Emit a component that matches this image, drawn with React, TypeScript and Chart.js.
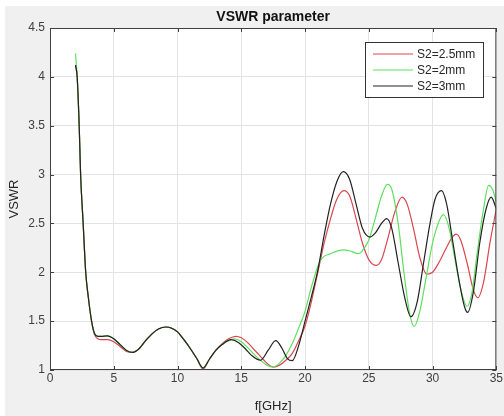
import React, { useEffect, useRef } from "react";
import { Chart, registerables } from "chart.js";

Chart.register(...registerables);

const TITLE = "VSWR parameter";
const X_LABEL = "f[GHz]";
const Y_LABEL = "VSWR";
const SERIES_LABELS = ["S2=2.5mm", "S2=2mm", "S2=3mm"];
const SERIES_COLORS = ["#d9464f", "#5ee05e", "#222222"];

const fRed = [2.0,2.13,2.29,2.4,2.6,2.8,3.0,3.26,3.5,3.75,4.0,4.5,5.0,5.5,6.0,6.5,7.0,7.5,8.0,8.5,9.1,9.5,10,10.5,11,11.5,12.0,12.5,13,13.5,14,14.6,15,15.5,16,16.5,17,17.5,18,18.5,19,19.5,20,20.5,21,21.5,22,22.5,23.05,23.5,24,24.5,25,25.6,26,26.5,27,27.6,28,28.5,29,29.55,30,30.5,31,31.5,31.85,32.2,32.7,33.2,33.55,34,34.5,35];
const vRed = [4.12,4.0,3.5,3.0,2.5,2.0,1.75,1.5,1.36,1.32,1.31,1.31,1.29,1.24,1.19,1.18,1.22,1.3,1.37,1.42,1.44,1.43,1.39,1.31,1.22,1.12,1.01,1.11,1.2,1.27,1.32,1.345,1.33,1.28,1.21,1.14,1.07,1.03,1.05,1.1,1.17,1.3,1.45,1.7,2.0,2.3,2.55,2.75,2.835,2.78,2.55,2.3,2.13,2.07,2.13,2.35,2.6,2.77,2.7,2.45,2.15,1.98,2.0,2.1,2.23,2.35,2.39,2.33,2.1,1.82,1.74,1.9,2.3,2.65];

const fGreen = [2.0,2.13,2.29,2.4,2.6,2.8,3.0,3.26,3.5,3.75,4.0,4.5,5.0,5.5,6.0,6.5,7.0,7.5,8.0,8.5,9.1,9.5,10,10.5,11,11.5,12.0,12.5,13,13.5,14,14.45,15,15.5,16,16.5,17,17.5,18,18.5,19,19.5,20,20.5,21,21.3,22,23,23.5,24.2,24.6,25,25.5,26,26.45,26.8,27.3,27.8,28.2,28.55,29,29.5,30,30.5,30.85,31.3,31.8,32.3,32.7,33.1,33.5,34,34.4,34.7,35];
const vGreen = [4.24,4.0,3.5,3.0,2.5,2.0,1.75,1.5,1.37,1.345,1.345,1.35,1.32,1.26,1.2,1.18,1.22,1.3,1.37,1.42,1.44,1.43,1.39,1.31,1.22,1.12,1.02,1.11,1.2,1.26,1.3,1.32,1.29,1.23,1.16,1.1,1.05,1.03,1.07,1.15,1.27,1.43,1.6,1.85,2.06,2.14,2.19,2.23,2.22,2.19,2.24,2.33,2.55,2.78,2.9,2.85,2.5,1.95,1.58,1.445,1.6,1.95,2.3,2.52,2.59,2.45,2.1,1.78,1.65,1.8,2.2,2.65,2.89,2.85,2.72];

const fBlack = [2.0,2.13,2.29,2.4,2.6,2.8,3.0,3.26,3.5,3.75,4.0,4.5,5.0,5.5,6.0,6.5,7.0,7.5,8.0,8.5,9.1,9.5,10,10.5,11,11.5,12.0,12.5,13,13.5,14.2,14.8,15.3,15.8,16.5,17.1,17.7,18.2,18.6,19.0,19.5,20,20.5,21,21.5,22,22.5,23.0,23.5,24,24.5,25.1,25.5,26,26.4,26.8,27.3,27.8,28.3,28.8,29.3,29.8,30.2,30.7,31.1,31.6,32.1,32.5,32.75,33.2,33.7,34.2,34.6,35];
const vBlack = [4.12,4.0,3.5,3.0,2.5,2.0,1.75,1.5,1.37,1.345,1.345,1.35,1.32,1.26,1.2,1.18,1.22,1.3,1.37,1.42,1.44,1.43,1.39,1.31,1.22,1.12,1.02,1.11,1.2,1.26,1.31,1.28,1.22,1.15,1.1,1.2,1.3,1.22,1.12,1.095,1.25,1.5,1.75,2.02,2.38,2.7,2.93,3.03,2.95,2.7,2.45,2.36,2.4,2.5,2.55,2.45,2.1,1.75,1.545,1.7,2.1,2.5,2.75,2.835,2.7,2.3,1.9,1.65,1.59,1.8,2.3,2.65,2.77,2.65];

const X_MIN = 0, X_MAX = 35, X_STEP = 5;
const Y_MIN = 1, Y_MAX = 4.5, Y_STEP = 0.5;

const FONT = "'Liberation Sans', Arial, sans-serif";

const toPts = (xs: number[], ys: number[]) => xs.map((x, i) => ({ x, y: ys[i] }));
const fmt = (v: any) => String(Number(v));

const bgPlugin = {
  id: "figureBg",
  beforeDraw(chart: any) {
    const { ctx, width, height, chartArea } = chart;
    ctx.save();
    ctx.fillStyle = "#ffffff";
    ctx.fillRect(0, 0, width, height);
    ctx.fillStyle = "#f0f0f0";
    ctx.fillRect(5, 6, width - 5, height - 6);
    ctx.fillStyle = "#ffffff";
    ctx.fillRect(chartArea.left, chartArea.top, chartArea.right - chartArea.left, chartArea.bottom - chartArea.top);
    ctx.restore();
  },
};

const framePlugin = {
  id: "matlabFrame",
  afterDatasetsDraw(chart: any) {
    const { ctx, chartArea, scales } = chart;
    const { left, right, top, bottom } = chartArea;
    ctx.save();
    ctx.strokeStyle = "#404040";
    ctx.lineWidth = 1;
    ctx.strokeRect(left + 0.5, top + 0.5, right - left - 1, bottom - top - 1);
    const tl = 4;
    ctx.beginPath();
    scales.x.ticks.forEach((t: any) => {
      const px = Math.round(scales.x.getPixelForValue(t.value)) + 0.5;
      ctx.moveTo(px, bottom);
      ctx.lineTo(px, bottom - tl);
      ctx.moveTo(px, top);
      ctx.lineTo(px, top + tl);
    });
    scales.y.ticks.forEach((t: any) => {
      const py = Math.round(scales.y.getPixelForValue(t.value)) + 0.5;
      ctx.moveTo(left, py);
      ctx.lineTo(left + tl, py);
      ctx.moveTo(right, py);
      ctx.lineTo(right - tl, py);
    });
    ctx.stroke();

    // title
    ctx.fillStyle = "#111111";
    ctx.font = `bold 14px ${FONT}`;
    ctx.textAlign = "center";
    ctx.textBaseline = "middle";
    ctx.fillText(TITLE, (left + right) / 2, 17);

    // legend
    const lx = 365, ly = 42, lw = 118, lh = 55;
    ctx.fillStyle = "#ffffff";
    ctx.fillRect(lx, ly, lw, lh);
    ctx.strokeStyle = "#333333";
    ctx.strokeRect(lx + 0.5, ly + 0.5, lw, lh);
    ctx.font = `12px ${FONT}`;
    ctx.textAlign = "left";
    chart.data.datasets.forEach((ds: any, i: number) => {
      const yy = ly + 12 + i * 16;
      ctx.strokeStyle = ds.borderColor;
      ctx.lineWidth = 1.2;
      ctx.beginPath();
      ctx.moveTo(lx + 8, yy);
      ctx.lineTo(lx + 48, yy);
      ctx.stroke();
      ctx.fillStyle = "#262626";
      ctx.fillText(ds.label, lx + 52, yy + 1);
    });
    ctx.restore();
  },
};

export default function App() {
  const ref = useRef<HTMLCanvasElement | null>(null);
  useEffect(() => {
    if (!ref.current) return;
    const series = [
      { label: SERIES_LABELS[0], data: toPts(fRed, vRed), color: SERIES_COLORS[0], order: 2 },
      { label: SERIES_LABELS[1], data: toPts(fGreen, vGreen), color: SERIES_COLORS[1], order: 1 },
      { label: SERIES_LABELS[2], data: toPts(fBlack, vBlack), color: SERIES_COLORS[2], order: 0 },
    ];
    const chart = new Chart(ref.current, {
      type: "line",
      data: {
        datasets: series.map((s) => ({
          label: s.label,
          data: s.data,
          borderColor: s.color,
          backgroundColor: s.color,
          borderWidth: 1.2,
          pointRadius: 0,
          cubicInterpolationMode: "monotone",
          fill: false,
          order: s.order,
        })),
      },
      options: {
        animation: false,
        responsive: false,
        maintainAspectRatio: false,
        layout: { padding: { left: 7, top: 28, right: 6, bottom: 0 } },
        plugins: {
          legend: { display: false },
          title: { display: false },
          tooltip: { enabled: false },
        },
        scales: {
          x: {
            type: "linear",
            min: X_MIN,
            max: X_MAX,
            afterFit: (s: any) => { s.height = 46; },
            ticks: { stepSize: X_STEP, color: "#404040", font: { family: FONT, size: 12 }, padding: 1, maxRotation: 0, callback: fmt },
            grid: { color: "#e3e3e3", drawTicks: false },
            border: { display: false },
            title: { display: true, text: X_LABEL, color: "#262626", font: { family: FONT, size: 13 }, padding: { top: 4, bottom: 2 } },
          },
          y: {
            type: "linear",
            min: Y_MIN,
            max: Y_MAX,
            afterFit: (s: any) => { s.width = 43; },
            ticks: { stepSize: Y_STEP, color: "#404040", font: { family: FONT, size: 12 }, padding: 5, callback: fmt },
            grid: { color: "#e3e3e3", drawTicks: false },
            border: { display: false },
            title: { display: true, text: Y_LABEL, color: "#262626", font: { family: FONT, size: 13 }, padding: { top: 0, bottom: 0 } },
          },
        },
      },
      plugins: [bgPlugin, framePlugin],
    } as any);
    return () => chart.destroy();
  }, []);
  return (
    <div style={{ position: "absolute", left: 0, top: 0, width: 504, height: 416 }}>
      <canvas ref={ref} width={504} height={416} style={{ width: 504, height: 416, display: "block" }} />
    </div>
  );
}
